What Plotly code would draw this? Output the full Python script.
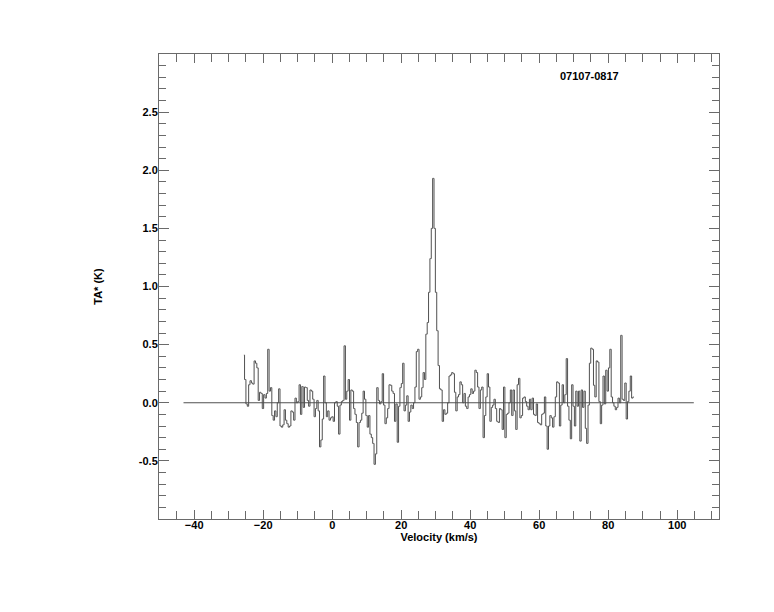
import plotly.graph_objects as go

# ---- data (TA* in K per channel) ----
velocity_start = -25.6      # km/s, first channel
channel_width = 0.395       # km/s

ta_seg1 = [0.41, 0.20, -0.01, -0.03, 0.155, 0.19, 0.17, 0.16, 0.36, 0.34,
           0.30, 0.02, 0.09, 0.08, -0.05, 0.07, 0.04, 0.08, 0.46, 0.10,
           0.13, -0.11, -0.15, -0.07, -0.12, 0.0, 0.12, -0.20, -0.21, -0.19,
           -0.06, -0.15, -0.18, -0.21, -0.20, -0.07, -0.08, -0.15, 0.04, 0.0,
           0.01, 0.155, -0.10, 0.14, -0.04, 0.135, 0.13, 0.02, -0.03, 0.11,
           0.10, 0.03, -0.12, -0.05, 0.02, -0.07, -0.38, -0.32, -0.14, 0.23,
           0.0, -0.12, -0.07, -0.15, -0.13, -0.12, -0.16, 0.0, 0.01]

ta_seg2 = [-0.03, -0.27, -0.02, 0.01, 0.02, 0.49, 0.03, 0.10, 0.20, -0.15,
           0.11, 0.10, -0.05, -0.10, -0.17, -0.38, -0.17, -0.15, -0.09, 0.10,
           0.03, -0.11, -0.21, -0.11, -0.27, -0.30, -0.35, -0.53, -0.44, 0.13,
           0.02, -0.01, 0.01, 0.25, -0.02, -0.18, -0.13, -0.05, 0.155, 0.15,
           0.10, 0.08, -0.16, -0.01, -0.34, -0.03, 0.13, 0.165, 0.34, -0.07,
           -0.02, 0.06, -0.16, -0.08, -0.02, -0.05, 0.0, 0.135, 0.44, 0.46,
           0.03, 0.05, 0.13, 0.26, 0.20]

ta_peak = [0.59, 0.69, 0.95, 1.24, 1.50, 1.93, 1.50, 0.95, 0.62, 0.32]

ta_seg3 = [0.12, 0.11, -0.16, -0.06, -0.10, -0.09, 0.0, 0.23, 0.24, 0.26,
           0.25, 0.09, -0.07, 0.05, 0.07, 0.18, 0.155, 0.0, 0.08, -0.03,
           -0.05, 0.05, 0.07, 0.12, 0.08, 0.10, 0.28, 0.26, 0.135, -0.05,
           0.11, 0.135, -0.30, -0.11, 0.05, 0.25, 0.135, -0.16, -0.04, -0.02,
           0.03, -0.05, -0.16, -0.17, -0.05, -0.06, -0.23, 0.135, -0.30, -0.10,
           -0.09, 0.0, 0.11, -0.11, 0.11, -0.07, -0.23, 0.155, 0.21, -0.13,
           -0.11, 0.04, 0.05, 0.01, -0.03, -0.06, 0.03, -0.06, 0.04, -0.10,
           -0.11, -0.01, -0.17, -0.18, -0.19, -0.10, -0.09, 0.05, -0.20]

ta_seg4 = [-0.40, -0.20, -0.11, -0.13, -0.21, -0.12, 0.05, 0.18, 0.17, -0.20,
           -0.02, 0.155, 0.0, 0.07, 0.38, -0.03, -0.15, -0.31, 0.155, -0.03,
           -0.20, 0.10, -0.03, 0.10, -0.33, 0.11, -0.04, 0.10, -0.22, -0.35,
           -0.02, 0.34, 0.47, 0.46, 0.15, 0.05, 0.36, 0.35, 0.01, -0.18,
           -0.02, 0.23, -0.01, 0.28, 0.10, 0.30, 0.46, 0.05, 0.0, -0.03,
           -0.06, -0.04, 0.04, 0.0, 0.58, 0.03, 0.02, 0.17, -0.14, 0.01,
           0.10, 0.23, 0.04, 0.05]

baseline_velocity = [-43.1, 104.8]
baseline_ta = [0.0, 0.0]

x_tick_values = [-40, -20, 0, 20, 40, 60, 80, 100]
y_tick_values = [-0.5, 0.0, 0.5, 1.0, 1.5, 2.0, 2.5]
y_tick_labels = ["-0.5", "0.0", "0.5", "1.0", "1.5", "2.0", "2.5"]

source_name = "07107-0817"
x_title = "Velocity (km/s)"
y_title = "TA* (K)"

# ---- build ----
ta = ta_seg1 + ta_seg2 + ta_peak + ta_seg3 + ta_seg4
velocity = [velocity_start + i * channel_width for i in range(len(ta))]

line_col = "#505050"
frame_col = "#6a6a6a"
font_family = "Liberation Sans, Arial, Helvetica, sans-serif"

fig = go.Figure()
fig.add_trace(go.Scatter(x=baseline_velocity, y=baseline_ta, mode="lines",
                         line=dict(color=line_col, width=1), hoverinfo="skip"))
fig.add_trace(go.Scatter(x=velocity, y=ta, mode="lines", line_shape="hvh",
                         line=dict(color=line_col, width=1)))

fig.add_annotation(x=65.4, y=2.81, xref="x", yref="y", text=source_name,
                   showarrow=False, xanchor="left", yanchor="middle",
                   font=dict(family=font_family, size=11, color="black", weight="bold"))

fig.update_layout(
    width=758, height=596,
    margin=dict(l=151, r=47, t=46, b=85),
    paper_bgcolor="white", plot_bgcolor="white",
    showlegend=False,
    font=dict(family=font_family, size=11, color="black"),
)

fig.update_xaxes(
    range=[-50.2, 112.1], showgrid=False, zeroline=False,
    showline=True, linecolor=frame_col, linewidth=1, mirror="ticks",
    ticks="inside", ticklen=9, tickcolor=frame_col, tickwidth=1,
    tickvals=x_tick_values, ticklabelstandoff=-4,
    tickfont=dict(family=font_family, size=11, color="black", weight="bold"),
    minor=dict(ticks="inside", dtick=5, ticklen=8, tickcolor=frame_col, tickwidth=1, showgrid=False),
    title=dict(text=x_title, standoff=2,
               font=dict(family=font_family, size=11, color="black", weight="bold")),
)
fig.update_yaxes(
    range=[-1.0, 3.0], showgrid=False, zeroline=False,
    showline=True, linecolor=frame_col, linewidth=1, mirror="ticks",
    ticks="inside", ticklen=10, tickcolor=frame_col, tickwidth=1,
    tickvals=y_tick_values, ticktext=y_tick_labels, ticklabelstandoff=-2,
    tickfont=dict(family=font_family, size=11, color="black", weight="bold"),
    minor=dict(ticks="inside", dtick=0.1, ticklen=7, tickcolor=frame_col, tickwidth=1, showgrid=False),
    title=dict(text=y_title, standoff=33,
               font=dict(family=font_family, size=11, color="black", weight="bold")),
)

fig.write_html("out.html")
